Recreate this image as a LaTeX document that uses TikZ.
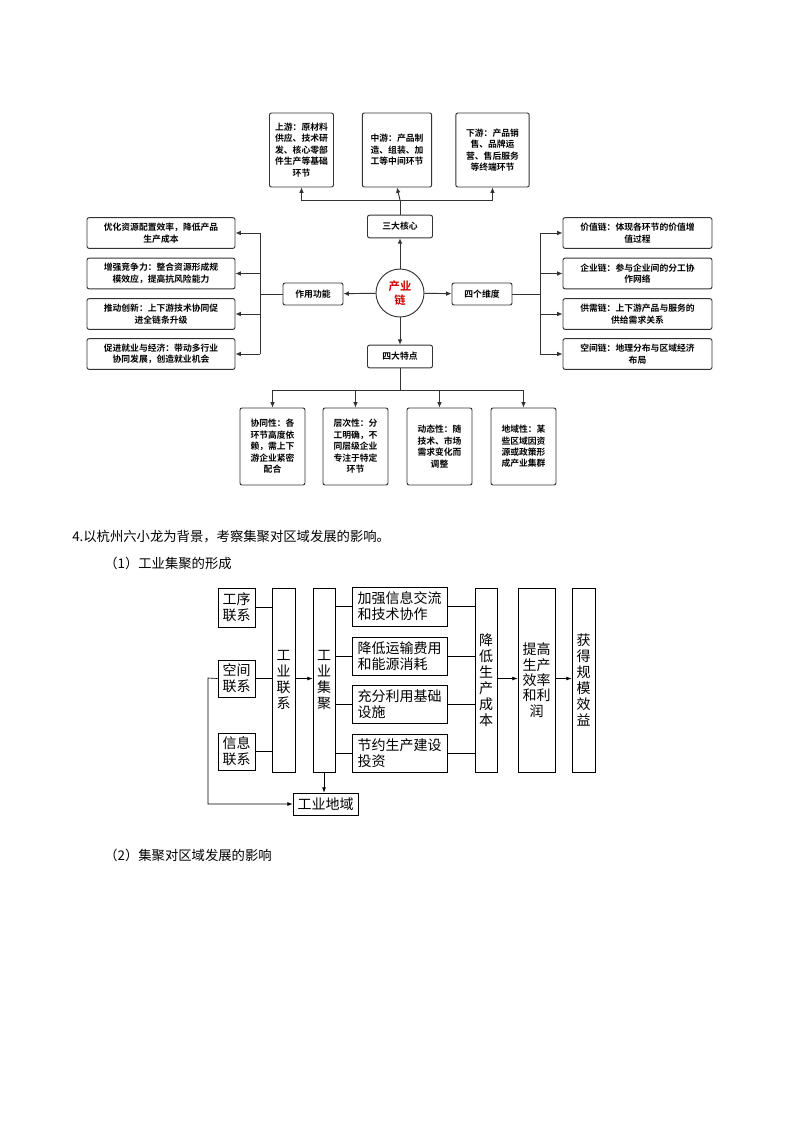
\documentclass[tikz,border=0pt]{standalone}
\usepackage{fontspec}
\setmainfont{Noto Sans CJK SC}
\newfontfamily\cjkb{Noto Sans CJK SC Bold}
\usetikzlibrary{arrows.meta}
\begin{document}
\begin{tikzpicture}[x=0.75pt,y=-0.75pt,
 tb/.style={draw=black!80,line width=0.7pt,rounded corners=1.5pt,align=center,font=\cjkb\fontsize{6.6}{8.6}\selectfont,inner sep=2pt},
 ar/.style={-{Latex[length=4pt,width=3.5pt]},line width=0.7pt,black!80},
 lb/.style={draw,line width=0.6pt,align=center,font=\fontsize{10.5}{12}\selectfont,inner sep=1pt},
 la/.style={-{Latex[length=4pt,width=3pt]},line width=0.5pt},
 ln/.style={line width=0.5pt}]
\useasboundingbox (0,0) rectangle (800,1132);
\fill[white] (0,0) rectangle (800,1132);
% ---- top diagram
\node[draw=black!80,line width=0.7pt,circle,minimum size=48pt*0.75,text=red!80!black,font=\cjkb\fontsize{8.5}{10}\selectfont,align=center,inner sep=0pt] (c) at (400,293) {产业\\链};
\node[tb,minimum width=48.75pt,minimum height=17pt] (k3) at (400,226.5) {三大核心};
\node[tb,minimum width=45pt,minimum height=16.5pt] (zy) at (313,294) {作用功能};
\node[tb,minimum width=45pt,minimum height=16.5pt] (wd) at (482,294) {四个维度};
\node[tb,minimum width=48.75pt,minimum height=17pt] (td) at (400,356.5) {四大特点};
\draw[ar] (c) -- (k3); \draw[ar] (c) -- (zy); \draw[ar] (c) -- (wd); \draw[ar] (c) -- (td);
% top boxes
\node[tb,minimum width=48pt,minimum height=55.5pt] (u1) at (301.5,150) {上游：原材料\\供应、技术研\\发、核心零部\\件生产等基础\\环节};
\node[tb,minimum width=52pt,minimum height=55.5pt] (u2) at (397,150) {中游：产品制\\造、组装、加\\工等中间环节};
\node[tb,minimum width=55pt,minimum height=55.5pt] (u3) at (492.5,150) {下游：产品销\\售、品牌运\\营、售后服务\\等终端环节};
\coordinate (tb) at (400,200);
\draw[line width=0.7pt,black!80] (k3) -- (tb);
\draw[ar] (tb) -| (u1.south); \draw[ar] (tb) -- (u2.south); \draw[ar] (tb) -| (u3.south);
% left boxes
\foreach \n/\y/\t in {l1/233/{优化资源配置效率，降低产品\\生产成本},l2/273.5/{增强竞争力：整合资源形成规\\模效应，提高抗风险能力},l3/314/{推动创新：上下游技术协同促\\进全链条升级},l4/354/{促进就业与经济：带动多行业\\协同发展，创造就业机会}}{
 \node[tb,minimum width=111pt,minimum height=23pt] (\n) at (161,\y) {\t};
 \draw[ar] (260,\y) -- (\n.east);}
\draw[line width=0.7pt,black!80] (zy.west) -- (260,294) (260,233) -- (260,354);
% right boxes
\foreach \n/\y/\t in {r1/233/{价值链：体现各环节的价值增\\值过程},r2/273.5/{企业链：参与企业间的分工协\\作网络},r3/314/{供需链：上下游产品与服务的\\供给需求关系},r4/354/{空间链：地理分布与区域经济\\布局}}{
 \node[tb,minimum width=111.75pt,minimum height=23pt] (\n) at (637.5,\y) {\t};
 \draw[ar] (540,\y) -- (\n.west);}
\draw[line width=0.7pt,black!80] (wd.east) -- (540,294) (540,233) -- (540,354);
% bottom boxes
\coordinate (bb) at (400,390);
\draw[line width=0.7pt,black!80] (td) -- (bb);
\foreach \n/\x/\t in {b1/272.5/{协同性：各\\环节高度依\\赖，需上下\\游企业紧密\\配合},b2/355.5/{层次性：分\\工明确，不\\同层级企业\\专注于特定\\环节},b3/439.5/{动态性：随\\技术、市场\\需求变化而\\调整},b4/523.5/{地域性：某\\些区域因资\\源或政策形\\成产业集群}}{
 \node[tb,minimum width=48.75pt,minimum height=57.75pt] (\n) at (\x,446.5) {\t};
 \draw[ar] (bb) -| (\n.north);}
% ---- text lines
\node[anchor=west,font=\fontsize{10}{12}\selectfont,inner sep=0pt] (t4) at (72,537) {4.以杭州六小龙为背景，考察集聚对区域发展的影响。};
\node[anchor=west,font=\fontsize{10}{12}\selectfont,inner sep=0pt] (t1) at (104,563) {（1）工业集聚的形成};
\node[anchor=west,font=\fontsize{10}{12}\selectfont,inner sep=0pt] (t2) at (104,855) {（2）集聚对区域发展的影响};
% ---- lower diagram
\node[lb,minimum width=27.75pt,minimum height=29.25pt] (gx) at (236.5,607.5) {工序\\联系};
\node[lb,minimum width=27.75pt,minimum height=27.75pt] (kj) at (236.5,678.5) {空间\\联系};
\node[lb,minimum width=27.75pt,minimum height=27.75pt] (xx) at (236.5,751.5) {信息\\联系};
\node[lb,minimum width=17.25pt,minimum height=138pt] (gl) at (283.5,680) {工\\业\\联\\系};
\node[lb,minimum width=16.5pt,minimum height=138pt] (gj) at (324,680) {工\\业\\集\\聚};
\node[lb,minimum width=71.25pt,minimum height=29.25pt,align=left] (m1) at (399.5,606.5) {加强信息交流\\和技术协作};
\node[lb,minimum width=71.25pt,minimum height=28.5pt,align=left] (m2) at (399.5,656) {降低运输费用\\和能源消耗};
\node[lb,minimum width=71.25pt,minimum height=28.5pt,align=left] (m3) at (399.5,704) {充分利用基础\\设施\phantom{利用基础}};
\node[lb,minimum width=71.25pt,minimum height=28.5pt,align=left] (m4) at (399.5,753) {节约生产建设\\投资\phantom{生产建设}};
\node[lb,minimum width=16.5pt,minimum height=138pt] (jd) at (486,680) {降\\低\\生\\产\\成\\本};
\node[lb,minimum width=27.75pt,minimum height=138pt,font=\fontsize{10.5}{11.5}\selectfont] (tg) at (536.5,680) {提高\\生产\\效率\\和利\\润};
\node[lb,minimum width=17.25pt,minimum height=138pt] (hd) at (583.5,680) {获\\得\\规\\模\\效\\益};
\node[lb,minimum width=48.75pt,minimum height=16.5pt] (dy) at (325.5,804) {工业地域};
\draw[ln] (gx.east) -- (gx.east-|gl.west);
\draw[ln] (kj.east) -- (kj.east-|gl.west);
\draw[ln] (xx.east) -- (xx.east-|gl.west);
\draw[la] (gl.east|-kj.east) -- (gj.west|-kj.east);
\foreach \m in {m1,m2,m3,m4}{\draw[ln] (gj.east|-\m.west) -- (\m.west); \draw[ln] (\m.east) -- (jd.west|-\m.east);}
\draw[la] (jd.east|-kj.east) -- (tg.west|-kj.east);
\draw[la] (tg.east|-kj.east) -- (hd.west|-kj.east);
\draw[la] (gj.south) -- (gj.south|-dy.north);
\coordinate (lp) at (208,678);
\draw[la] (kj.west) -- (lp) |- (dy.west);
\end{tikzpicture}
\end{document}
